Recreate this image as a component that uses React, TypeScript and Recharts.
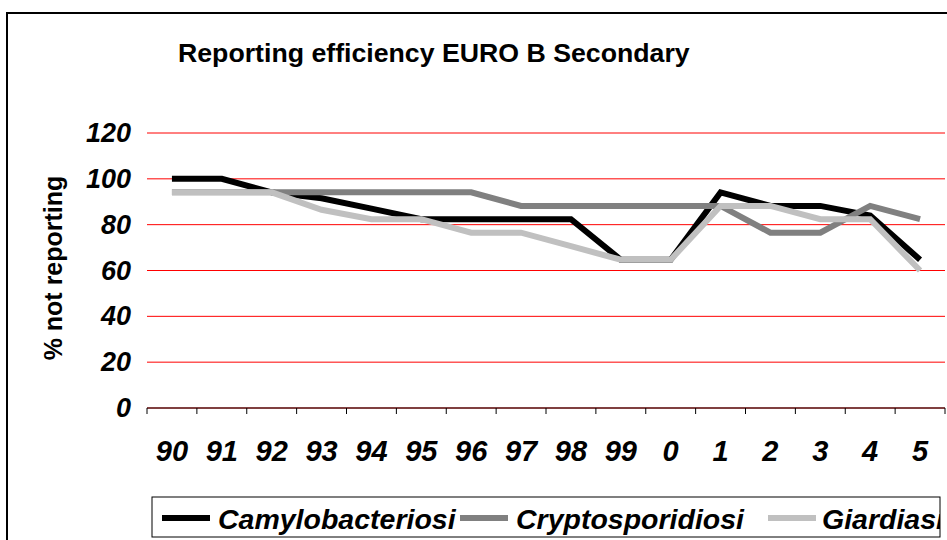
import { LineChart, Line, XAxis, YAxis, CartesianGrid } from 'recharts';

const CATEGORIES = ['90', '91', '92', '93', '94', '95', '96', '97', '98', '99', '0', '1', '2', '3', '4', '5'];
const CAMY = [100, 100, 94.1, 91.5, 87, 82.4, 82.4, 82.4, 82.4, 64.7, 64.7, 94.1, 88.2, 88.2, 84, 64.7];
const CRYPTO = [94.1, 94.1, 94.1, 94.1, 94.1, 94.1, 94.1, 88.2, 88.2, 88.2, 88.2, 88.2, 76.5, 76.5, 88.2, 82.4];
const GIARDIA = [94.1, 94.1, 94.1, 86.5, 82.4, 82.4, 76.5, 76.5, 70.6, 64.7, 64.7, 88.2, 88.2, 82.4, 82.4, 60];
const Y_TICKS = [0, 20, 40, 60, 80, 100, 120];

const SERIES = [
    { key: 'camy', name: 'Camylobacteriosi', color: '#000000', values: CAMY },
    { key: 'crypto', name: 'Cryptosporidiosi', color: '#808080', values: CRYPTO },
    { key: 'giardia', name: 'Giardiasi', color: '#c0c0c0', values: GIARDIA },
];

const data = CATEGORIES.map((year, i) => {
    const row: any = { year };
    SERIES.forEach(s => { row[s.key] = s.values[i]; });
    return row;
});

// layout
const W = 947;
const H = 540;
const PLOT_LEFT = 147;
const PLOT_RIGHT = 945;
const PLOT_TOP = 133;
const PLOT_BOTTOM = 408;
const STEP = (PLOT_RIGHT - PLOT_LEFT) / CATEGORIES.length;
const LEGEND_LINE_X = [162, 460, 768];
const LEGEND_LINE_LEN = [48, 48, 48];
const LEGEND_TEXT_X = [218, 516, 822];
const FONT = '"Liberation Sans", Arial, sans-serif';

const XTick = (props: any) => {
    const { x, payload, index } = props;
    const half = STEP / 2;
    return (
        <g>
            <line x1={x - half} x2={x - half} y1={PLOT_BOTTOM} y2={PLOT_BOTTOM + 6} stroke="#000" />
            {index === CATEGORIES.length - 1 && (
                <line x1={x + half} x2={x + half} y1={PLOT_BOTTOM} y2={PLOT_BOTTOM + 6} stroke="#000" />
            )}
            <text x={x} y={461} textAnchor="middle" fontFamily={FONT} fontSize={29} fontWeight={700} fontStyle="italic" fill="#000">
                {payload.value}
            </text>
        </g>
    );
};

const YTick = (props: any) => {
    const { y, payload } = props;
    return (
        <text x={131} y={y + 9} textAnchor="end" fontFamily={FONT} fontSize={27} fontWeight={700} fontStyle="italic" fill="#000">
            {payload.value}
        </text>
    );
};

export default function App() {
    return (
        <div style={{ position: 'absolute', left: 0, top: 0, width: W, height: H, background: '#fff', overflow: 'hidden' }}>
            <LineChart
                width={W}
                height={H}
                data={data}
                margin={{ top: PLOT_TOP, right: W - PLOT_RIGHT, left: PLOT_LEFT - 80, bottom: H - PLOT_BOTTOM - 60 }}
            >
                <CartesianGrid horizontal vertical={false} stroke="#ff0000" strokeWidth={1} />
                <XAxis
                    dataKey="year"
                    height={60}
                    interval={0}
                    padding={{ left: STEP / 2, right: STEP / 2 }}
                    tickLine={false}
                    axisLine={{ stroke: '#000', strokeWidth: 1 }}
                    tick={<XTick />}
                />
                <YAxis
                    width={80}
                    domain={[0, 120]}
                    ticks={Y_TICKS}
                    axisLine={false}
                    tickLine={false}
                    tick={<YTick />}
                />
                {SERIES.map(s => (
                    <Line
                        key={s.key}
                        dataKey={s.key}
                        name={s.name}
                        type="linear"
                        stroke={s.color}
                        strokeWidth={6}
                        strokeLinejoin="miter"
                        strokeLinecap="butt"
                        dot={false}
                        activeDot={false}
                        isAnimationActive={false}
                    />
                ))}
            </LineChart>
            <svg width={W} height={H} style={{ position: 'absolute', left: 0, top: 0, pointerEvents: 'none' }}>
                <rect x={7} y={13} width={1000} height={600} fill="none" stroke="#000" strokeWidth={2} />
                <text x={178} y={62} fontFamily={FONT} fontSize={26.7} fontWeight={700} fill="#000">
                    Reporting efficiency EURO B Secondary
                </text>
                <text
                    transform="translate(62, 268) rotate(-90)"
                    textAnchor="middle"
                    fontFamily={FONT}
                    fontSize={25}
                    fontWeight={700}
                    fill="#000"
                >
                    % not reporting
                </text>
                <defs>
                    <clipPath id="legendClip">
                        <rect x={152} y={497} width={788} height={40} />
                    </clipPath>
                </defs>
                <rect x={152} y={497} width={788} height={40} fill="#fff" stroke="#000" strokeWidth={1} />
                <g clipPath="url(#legendClip)">
                    {SERIES.map((s, i) => (
                        <g key={s.key}>
                            <line
                                x1={LEGEND_LINE_X[i]}
                                x2={LEGEND_LINE_X[i] + LEGEND_LINE_LEN[i]}
                                y1={518}
                                y2={518}
                                stroke={s.color}
                                strokeWidth={6}
                            />
                            <text x={LEGEND_TEXT_X[i]} y={529} fontFamily={FONT} fontSize={28.5} fontWeight={700} fontStyle="italic" fill="#000">
                                {s.name}
                            </text>
                        </g>
                    ))}
                </g>
            </svg>
        </div>
    );
}
